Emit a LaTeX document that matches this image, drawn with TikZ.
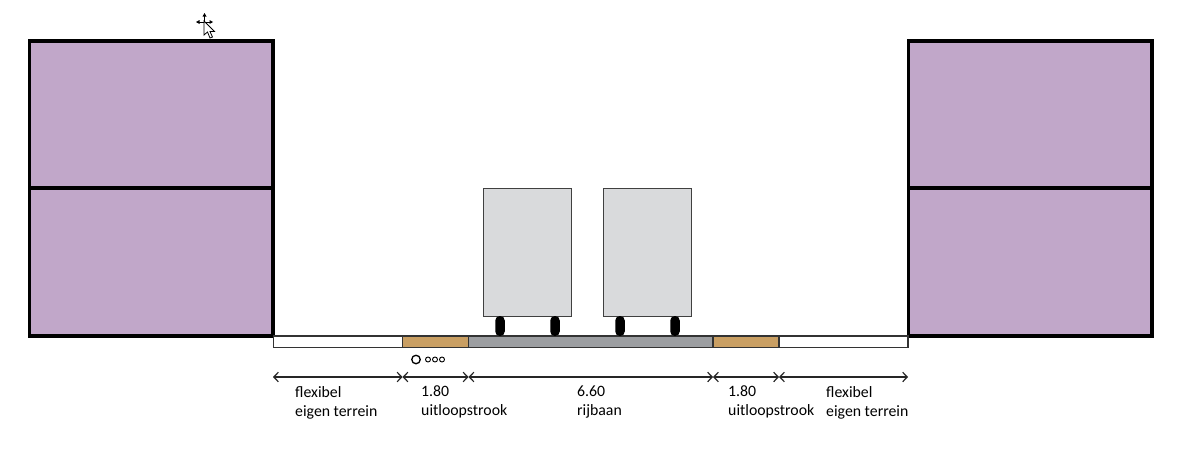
\documentclass[tikz,border=0pt]{standalone}
\usepackage{fontspec}
\setmainfont{Carlito}
\usetikzlibrary{arrows.meta}
\definecolor{housepurple}{HTML}{C1A7C9}
\definecolor{stripbrown}{HTML}{C99F63}
\definecolor{roadgrey}{HTML}{9C9EA1}
\definecolor{vangrey}{HTML}{D9DADC}
\tikzset{
  house/.style={rectangle,draw=black,line width=3.8pt,fill=housepurple,inner sep=0,minimum width=243.5pt,minimum height=147.5pt},
  strip/.style={rectangle,draw=black!80,line width=1.5pt,inner sep=0,minimum height=11.5pt},
  van/.style={rectangle,draw=black!75,line width=1pt,fill=vangrey,inner sep=0,minimum width=88pt,minimum height=128pt},
  wheel/.style={rectangle,rounded corners=4.5pt,fill=black,inner sep=0,minimum width=9.5pt,minimum height=20pt},
  tick/.style={circle,draw=black,inner sep=0},
  lbl/.style={anchor=north west,inner sep=0,align=left,font=\fontsize{15.8}{19}\selectfont}
}
\begin{document}
\begin{tikzpicture}[x=1pt,y=-1pt]
  \useasboundingbox (0,0) rectangle (1188,458);
  \fill[white] (0,0) rectangle (1188,458);
  % houses
  \node[house] (hla) at (151.2,114.5) {};
  \node[house] (hlb) at (151.2,262) {};
  \node[house] (hra) at (1030.2,114.5) {};
  \node[house] (hrb) at (1030.2,262) {};
  % road
  \node[strip,minimum width=129pt,fill=white] (sa) at (338,341.8) {};
  \node[strip,minimum width=66pt,fill=stripbrown] (sb) at (435.5,341.8) {};
  \node[strip,minimum width=245pt,fill=roadgrey] (sc) at (591,341.8) {};
  \node[strip,minimum width=66pt,fill=stripbrown] (sd) at (746,341.8) {};
  \node[strip,minimum width=129pt,fill=white] (se) at (843.5,341.8) {};
  % vans
  \node[van] (va) at (527.2,252) {};
  \node[van] (vb) at (647,252) {};
  \foreach \x/\n in {500/wa,555/wb,620/wc,675/wd}
    \node[wheel] (\n) at (\x,326) {};
  % circles
  \node[tick,line width=1.3pt,minimum size=8.5pt] (ca) at (416,359.5) {};
  \foreach \x/\n in {428/cb,435/cc,442/cd}
    \node[tick,line width=.9pt,minimum size=5pt] (\n) at (\x,359.5) {};
  % dimensions
  \coordinate (da) at (273,377);
  \coordinate (db) at (402.5,377);
  \coordinate (dc) at (468.5,377);
  \coordinate (dd) at (713,377);
  \coordinate (de) at (779,377);
  \coordinate (df) at (908,377);
  \foreach \from/\to in {da/db,db/dc,dc/dd,dd/de,de/df}
    \draw[{Straight Barb[length=4.5pt,width=9.5pt]}-{Straight Barb[length=4.5pt,width=9.5pt]},line width=1.2pt,black!85] (\from) -- (\to);
  \node[lbl] (ta) at (295,386) {flexibel\\eigen terrein};
  \node[lbl] (tb) at (421,386) {1.80\\uitloopstrook};
  \node[lbl] (tc) at (577,386) {6.60\\rijbaan};
  \node[lbl] (td) at (728,386) {1.80\\uitloopstrook};
  \node[lbl] (te) at (826,386) {flexibel\\eigen terrein};
  % cursor
  \draw[black,line width=.9pt] (197,22) -- (212,22) (204.5,15) -- (204.5,29);
  \fill[black] (204.5,13) -- (202.5,16.5) -- (206.5,16.5) -- cycle;
  \fill[black] (196,22) -- (199.5,20) -- (199.5,24) -- cycle;
  \fill[black] (213,22) -- (209.5,20) -- (209.5,24) -- cycle;
  \draw[fill=white,line width=.8pt] (204,21) -- (204,35) -- (207.5,32) -- (210,38) -- (212.5,37) -- (210,31.5) -- (214.5,31.5) -- cycle;
\end{tikzpicture}
\end{document}
